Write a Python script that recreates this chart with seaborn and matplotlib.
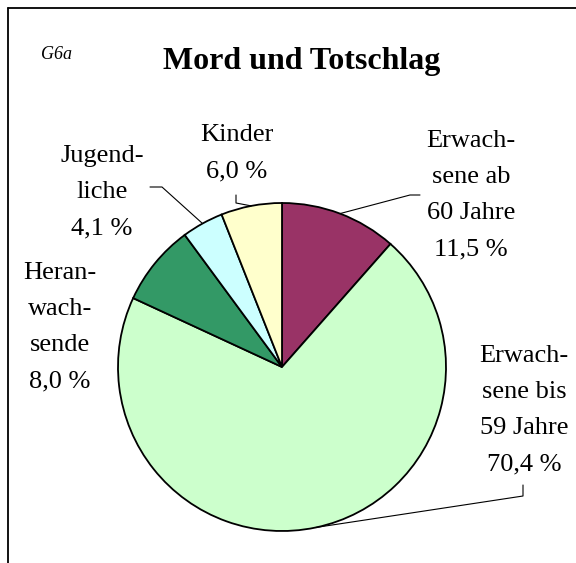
import numpy as np
import matplotlib
matplotlib.use("Agg")
import matplotlib.pyplot as plt
from matplotlib.lines import Line2D
import seaborn as sns

# ---- data ----
categories = ["Erwachsene ab 60 Jahre", "Erwachsene bis 59 Jahre",
              "Heranwachsende", "Jugendliche", "Kinder"]
label_texts = ["Erwach-\nsene ab\n60 Jahre\n11,5 %",
               "Erwach-\nsene bis\n59 Jahre\n70,4 %",
               "Heran-\nwach-\nsende\n8,0 %",
               "Jugend-\nliche\n4,1 %",
               "Kinder\n6,0 %"]
shares = [11.5, 70.4, 8.0, 4.1, 6.0]
colors = ["#993366", "#CCFFCC", "#339966", "#CCFFFF", "#FFFFCC"]

sns.set_style("white")
plt.rcParams['font.family'] = ['Liberation Serif', 'DejaVu Serif']
plt.rcParams['text.color'] = 'black'

W, H = 576, 563
fig = plt.figure(figsize=(W / 100, H / 100), dpi=100)
fig.patch.set_facecolor("white")

# pie center / radius in pixels
cx, cy, R = 282, 367, 164
ax = fig.add_axes([(cx - R) / W, (H - cy - R) / H, 2 * R / W, 2 * R / H])

pal = sns.color_palette(colors)
wedges, _ = ax.pie(shares, colors=pal, startangle=90, counterclock=False,
                   radius=1, wedgeprops=dict(edgecolor="black", linewidth=1.3))
ax.set_xlim(-1, 1)
ax.set_ylim(-1, 1)
ax.set_aspect("auto")
ax.axis("off")

def px2d(px, py):
    return (px - cx) / R, (cy - py) / R

# label positions (center x, first-line top) in pixels
label_pos = [(471, 130), (524, 345), (60, 262), (102, 145), (237, 124)]
# leader line anchor polylines near labels (pixels)
leaders = [[(420, 195), (410, 195)],
           [(523, 485), (523, 496)],
           None,
           [(150, 187), (162, 187)],
           [(236, 195), (236, 203)]]

for w, txt, (lx, ly), lead in zip(wedges, label_texts, label_pos, leaders):
    x, y = px2d(lx, ly)
    ax.text(x, y, txt, ha="center", va="top", fontsize=19,
            linespacing=1.83, color="black", clip_on=False)
    if lead is not None:
        mid = np.deg2rad((w.theta1 + w.theta2) / 2)
        ex, ey = np.cos(mid), np.sin(mid)
        pts = [px2d(*p) for p in lead] + [(ex, ey)]
        xs, ys = zip(*pts)
        ax.plot(xs, ys, color="black", lw=0.8, clip_on=False)

# titles
fig.text(301.5 / W, 1 - 69 / H, "Mord und Totschlag", ha="center",
         va="baseline", fontsize=23, fontweight="bold", color="black")
fig.text(41 / W, 1 - 59 / H, "G6a", ha="left", va="baseline",
         fontsize=13, style="italic", color="black")

# frame lines (top and left)
fig.add_artist(Line2D([7.5 / W, 1], [1 - 7.5 / H, 1 - 7.5 / H],
                      color="black", lw=1.3, transform=fig.transFigure))
fig.add_artist(Line2D([7.5 / W, 7.5 / W], [1 - 7.5 / H, 0],
                      color="black", lw=1.3, transform=fig.transFigure))

fig.savefig("out.png", dpi=100)
